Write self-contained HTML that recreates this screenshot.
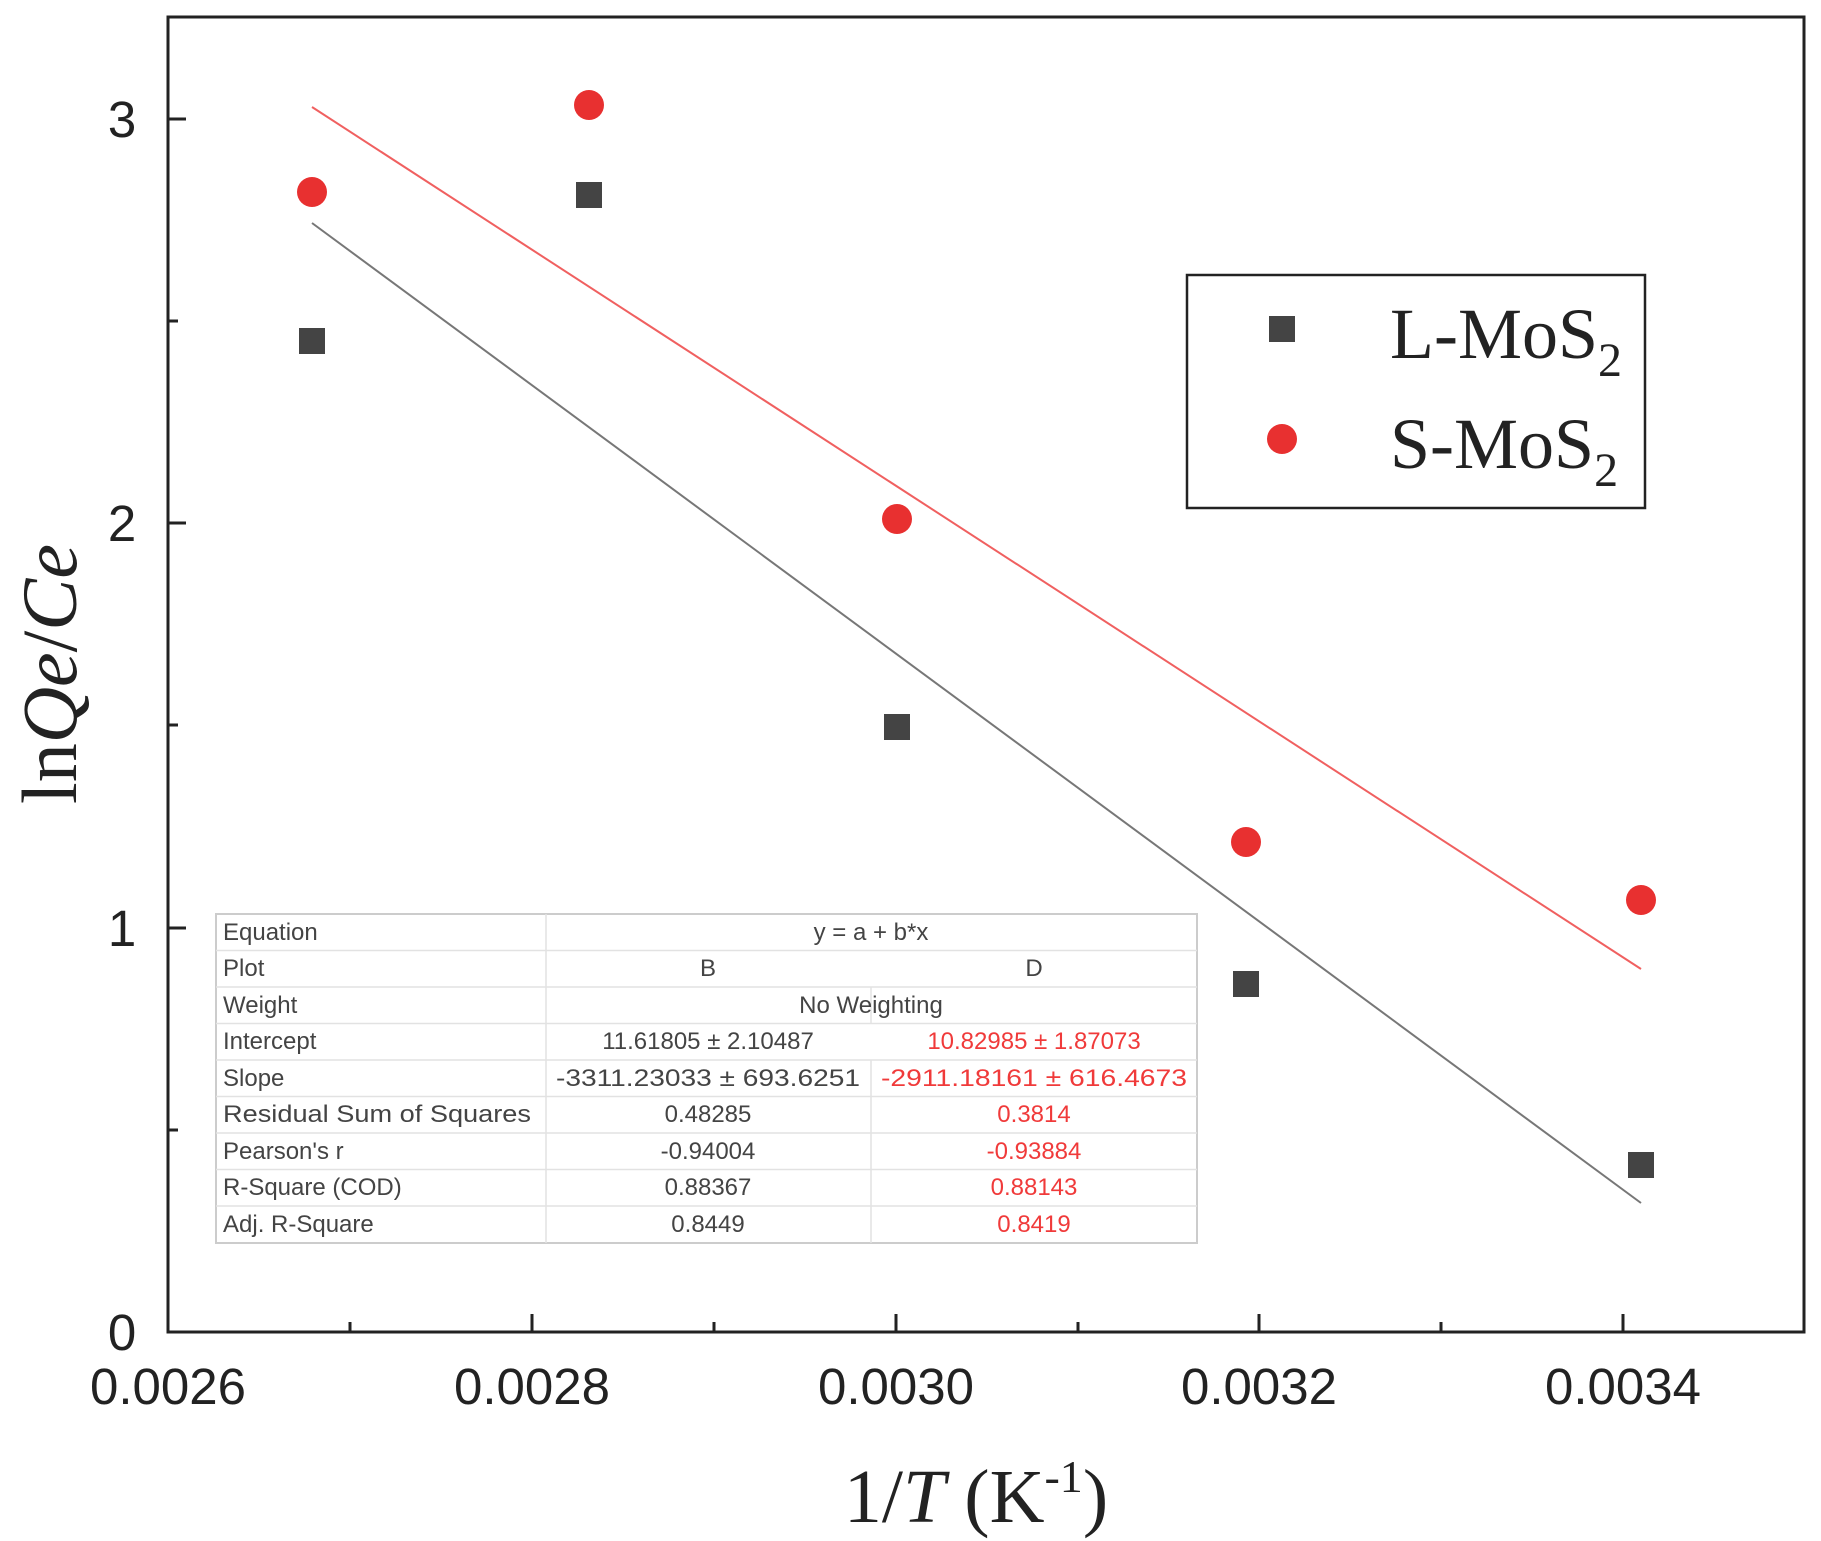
<!DOCTYPE html>
<html><head><meta charset="utf-8"><style>
body{margin:0;background:#fff;}
svg{display:block}
</style></head><body>
<svg width="1821" height="1541" viewBox="0 0 1821 1541" xmlns="http://www.w3.org/2000/svg">
<rect width="1821" height="1541" fill="#fff"/>
<rect x="168" y="17" width="1636" height="1315" fill="none" stroke="#222" stroke-width="3"/>
<g stroke="#222" stroke-width="3">
<line x1="532" y1="1332" x2="532" y2="1314"/>
<line x1="896" y1="1332" x2="896" y2="1314"/>
<line x1="1259" y1="1332" x2="1259" y2="1314"/>
<line x1="1623" y1="1332" x2="1623" y2="1314"/>
<line x1="350" y1="1332" x2="350" y2="1322"/>
<line x1="714" y1="1332" x2="714" y2="1322"/>
<line x1="1078" y1="1332" x2="1078" y2="1322"/>
<line x1="1441" y1="1332" x2="1441" y2="1322"/>
<line x1="168" y1="928" x2="186" y2="928"/>
<line x1="168" y1="523" x2="186" y2="523"/>
<line x1="168" y1="119" x2="186" y2="119"/>
<line x1="168" y1="1130" x2="178" y2="1130"/>
<line x1="168" y1="725" x2="178" y2="725"/>
<line x1="168" y1="321" x2="178" y2="321"/>
</g>
<g font-family="Liberation Sans, sans-serif" font-size="51" fill="#222" text-anchor="middle">
<text x="168" y="1404">0.0026</text>
<text x="532" y="1404">0.0028</text>
<text x="896" y="1404">0.0030</text>
<text x="1259" y="1404">0.0032</text>
<text x="1623" y="1404">0.0034</text>
<text x="122" y="1350">0</text>
<text x="122" y="946">1</text>
<text x="122" y="541">2</text>
<text x="122" y="137">3</text>
</g>
<text transform="translate(76,674) rotate(-90)" font-family="Liberation Serif, serif" font-size="78" text-anchor="middle" fill="#222">ln<tspan font-style="italic">Qe</tspan>/<tspan font-style="italic">Ce</tspan></text>
<text x="976" y="1522" font-family="Liberation Serif, serif" font-size="76" text-anchor="middle" fill="#222">1/<tspan font-style="italic">T</tspan> (K<tspan font-size="46" dy="-30">-1</tspan><tspan dy="30">)</tspan></text>
<line x1="312" y1="223" x2="1641" y2="1203" stroke="#777" stroke-width="2"/>
<line x1="312" y1="107" x2="1641" y2="969" stroke="#f06060" stroke-width="2"/>
<g fill="#444">
<rect x="299" y="328" width="26" height="26"/>
<rect x="576" y="182" width="26" height="26"/>
<rect x="884" y="714" width="26" height="26"/>
<rect x="1233" y="971" width="26" height="26"/>
<rect x="1628" y="1152" width="26" height="26"/>
</g>
<g fill="#e83030">
<circle cx="312" cy="192" r="15"/>
<circle cx="589" cy="105" r="15"/>
<circle cx="897" cy="519" r="15"/>
<circle cx="1246" cy="842" r="15"/>
<circle cx="1641" cy="900" r="15"/>
</g>
<rect x="1187" y="275" width="458" height="233" fill="#fff" stroke="#222" stroke-width="2.5"/>
<rect x="1269" y="316" width="26" height="26" fill="#444"/>
<circle cx="1282" cy="439" r="15" fill="#e83030"/>
<g font-family="Liberation Serif, serif" font-size="72" fill="#222">
<text x="1390" y="358">L-MoS<tspan font-size="48" dy="18">2</tspan></text>
<text x="1390" y="468">S-MoS<tspan font-size="48" dy="18">2</tspan></text>
</g>
<rect x="216" y="914" width="981" height="329" fill="#fff" stroke="#ccc" stroke-width="2"/>
<g stroke="#e2e2e2" stroke-width="1.5">
<line x1="216" y1="950.5" x2="1197" y2="950.5"/>
<line x1="216" y1="987" x2="1197" y2="987"/>
<line x1="216" y1="1023.5" x2="1197" y2="1023.5"/>
<line x1="216" y1="1060" x2="1197" y2="1060"/>
<line x1="216" y1="1096.5" x2="1197" y2="1096.5"/>
<line x1="216" y1="1133" x2="1197" y2="1133"/>
<line x1="216" y1="1169.5" x2="1197" y2="1169.5"/>
<line x1="216" y1="1206" x2="1197" y2="1206"/>
<line x1="546" y1="914" x2="546" y2="1243"/>
<line x1="871" y1="987" x2="871" y2="1023.5"/>
<line x1="871" y1="1060" x2="871" y2="1243"/>
</g>
<g font-family="Liberation Sans, sans-serif" font-size="24" fill="#444">
<text x="223" y="940">Equation</text>
<text x="223" y="976">Plot</text>
<text x="223" y="1013">Weight</text>
<text x="223" y="1049">Intercept</text>
<text x="223" y="1086">Slope</text>
<text x="223" y="1122" textLength="308" lengthAdjust="spacingAndGlyphs">Residual Sum of Squares</text>
<text x="223" y="1159">Pearson's r</text>
<text x="223" y="1195">R-Square (COD)</text>
<text x="223" y="1232">Adj. R-Square</text>
<g text-anchor="middle">
<text x="871" y="940">y = a + b*x</text>
<text x="708" y="976">B</text>
<text x="1034" y="976">D</text>
<text x="871" y="1013">No Weighting</text>
<text x="708" y="1049">11.61805 ± 2.10487</text>
<text x="708" y="1086" textLength="304" lengthAdjust="spacingAndGlyphs">-3311.23033 ± 693.6251</text>
<text x="708" y="1122">0.48285</text>
<text x="708" y="1159">-0.94004</text>
<text x="708" y="1195">0.88367</text>
<text x="708" y="1232">0.8449</text>
<g fill="#f03a3a">
<text x="1034" y="1049">10.82985 ± 1.87073</text>
<text x="1034" y="1086" textLength="306" lengthAdjust="spacingAndGlyphs">-2911.18161 ± 616.4673</text>
<text x="1034" y="1122">0.3814</text>
<text x="1034" y="1159">-0.93884</text>
<text x="1034" y="1195">0.88143</text>
<text x="1034" y="1232">0.8419</text>
</g>
</g>
</g>
</svg>
</body></html>
